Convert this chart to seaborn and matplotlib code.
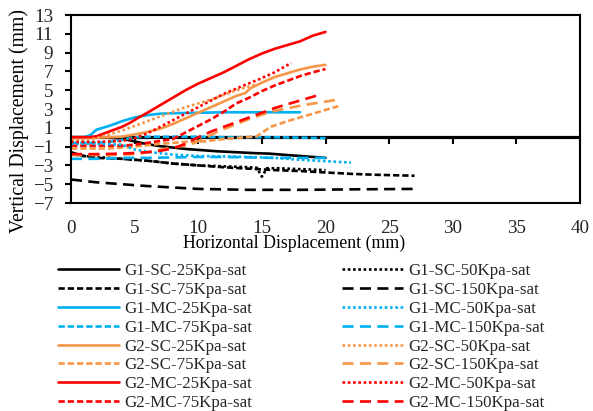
import numpy as np
import pandas as pd
import matplotlib
matplotlib.use("Agg")
import matplotlib.pyplot as plt
import seaborn as sns

# ---------------- data ----------------
g1_sc_25_x = [0, 1, 2, 3, 4, 5, 6, 7, 8, 9, 10, 11.5, 13, 14.5, 15.6, 17, 18, 19, 20]
g1_sc_25_y = [0, 0, 0, -0.05, -0.15, -0.45, -0.75, -0.95, -1.1, -1.25, -1.35, -1.5, -1.6, -1.7, -1.75, -1.9, -2.0, -2.1, -2.2]

g1_sc_50_x = [0, 1, 2, 4, 6, 8, 10, 12, 13.3, 14.6, 15.0, 15.4, 16.2, 18, 20]
g1_sc_50_y = [-1.8, -2.0, -2.1, -2.3, -2.5, -2.8, -3.0, -3.1, -3.15, -3.25, -4.2, -3.3, -3.3, -3.4, -3.5]

g1_sc_75_x = [0, 1, 2, 4, 6, 8, 10, 12, 14, 16, 18, 20, 22, 24, 27]
g1_sc_75_y = [-1.6, -2.0, -2.2, -2.3, -2.5, -2.8, -3.0, -3.2, -3.35, -3.5, -3.6, -3.75, -3.9, -4.0, -4.1]

g1_sc_150_x = [0, 2, 4, 6, 8, 10, 14, 18, 22, 27]
g1_sc_150_y = [-4.5, -4.8, -5.0, -5.2, -5.35, -5.5, -5.6, -5.6, -5.55, -5.5]

g1_mc_25_x = [0, 1, 1.5, 2, 3, 4, 5, 6, 7, 8, 10, 12, 14, 16, 18]
g1_mc_25_y = [0, 0, 0.2, 0.8, 1.2, 1.7, 2.1, 2.35, 2.5, 2.55, 2.6, 2.65, 2.65, 2.65, 2.65]

g1_mc_50_x = [0, 2, 4, 5, 6, 7, 8, 10, 12, 14, 16, 18, 20, 22]
g1_mc_50_y = [-0.7, -0.7, -0.8, -1.3, -1.55, -1.7, -1.85, -2.0, -2.05, -2.1, -2.2, -2.4, -2.55, -2.7]

g1_mc_75_x = [0, 2, 3, 4, 5, 6, 8, 10, 12, 14, 16, 18, 20]
g1_mc_75_y = [-0.6, -0.6, -0.5, -0.3, 0, 0.05, 0.05, 0.05, 0, 0, 0, -0.05, -0.1]

g1_mc_150_x = [0, 2, 4, 6, 8, 10, 12, 14, 16, 18, 20.5]
g1_mc_150_y = [-2.3, -2.3, -2.2, -2.2, -2.15, -2.1, -2.1, -2.15, -2.2, -2.2, -2.2]

g2_sc_25_x = [0, 2, 4, 5, 6, 7, 8, 9, 10, 11, 12, 13, 13.7, 14.1, 15, 16, 17, 18, 19, 20]
g2_sc_25_y = [-0.1, -0.05, 0.05, 0.3, 0.55, 0.9, 1.4, 2.0, 2.6, 3.2, 3.8, 4.4, 4.7, 5.2, 5.8, 6.4, 6.8, 7.2, 7.5, 7.7]

g2_sc_50_x = [0, 1, 2, 3, 4, 5, 6, 7, 8, 9, 10, 11, 12, 13, 14.5]
g2_sc_50_y = [-0.3, -0.3, -0.1, 0.3, 0.7, 1.2, 1.7, 2.2, 2.7, 3.2, 3.6, 4.0, 4.5, 5.0, 5.6]

g2_sc_75_x = [0, 3, 5, 7, 9, 10.4, 12, 14.6, 15.7, 17, 19, 21]
g2_sc_75_y = [-1.2, -1.2, -1.0, -0.7, -0.5, -0.45, -0.2, 0.1, 1.1, 1.7, 2.5, 3.3]

g2_sc_150_x = [0, 3, 5, 6, 7.5, 9.4, 11.7, 14.3, 16, 18.2, 21]
g2_sc_150_y = [-1.9, -1.9, -1.8, -1.6, -1.2, -0.8, 0.7, 2.1, 2.8, 3.4, 4.0]

g2_mc_25_x = [0, 1, 1.5, 2, 3, 4, 4.6, 5.2, 6, 7, 8, 9, 10, 11, 12, 13, 14, 15, 16, 17, 18, 19, 20]
g2_mc_25_y = [0, 0, 0, 0.1, 0.6, 1.1, 1.5, 2.0, 2.6, 3.4, 4.2, 5.0, 5.7, 6.3, 6.9, 7.6, 8.3, 8.9, 9.4, 9.8, 10.2, 10.8, 11.2]

g2_mc_50_x = [0, 2, 4, 5, 6, 7, 8, 9, 10, 11, 12, 13.3, 14.85, 16, 17.3]
g2_mc_50_y = [-0.5, -0.5, -0.4, -0.1, 0.4, 1.1, 1.8, 2.5, 3.2, 3.9, 4.6, 5.35, 6.2, 6.9, 7.9]

g2_mc_75_x = [0, 2, 4, 5, 6, 7, 8, 9, 10, 11, 12, 13, 14, 15, 16, 17, 18, 19, 20]
g2_mc_75_y = [-0.9, -0.9, -0.9, -0.8, -0.6, -0.4, -0.2, 0.5, 1.2, 1.9, 2.7, 3.6, 4.2, 4.9, 5.5, 6.0, 6.5, 6.9, 7.25]

g2_mc_150_x = [0, 2, 4, 6, 7, 8, 9, 10, 11, 12, 13, 14, 15, 16, 17, 18, 19, 19.7]
g2_mc_150_y = [-1.8, -1.8, -1.75, -1.6, -1.45, -1.2, -0.7, 0.0, 0.6, 1.1, 1.6, 2.1, 2.6, 3.1, 3.5, 3.9, 4.3, 4.6]

series_names = [
    "G1-SC-25Kpa-sat", "G1-SC-75Kpa-sat", "G1-MC-25Kpa-sat", "G1-MC-75Kpa-sat",
    "G2-SC-25Kpa-sat", "G2-SC-75Kpa-sat", "G2-MC-25Kpa-sat", "G2-MC-75Kpa-sat",
    "G1-SC-50Kpa-sat", "G1-SC-150Kpa-sat", "G1-MC-50Kpa-sat", "G1-MC-150Kpa-sat",
    "G2-SC-50Kpa-sat", "G2-SC-150Kpa-sat", "G2-MC-50Kpa-sat", "G2-MC-150Kpa-sat",
]
series_data = {
    "G1-SC-25Kpa-sat": (g1_sc_25_x, g1_sc_25_y),
    "G1-SC-50Kpa-sat": (g1_sc_50_x, g1_sc_50_y),
    "G1-SC-75Kpa-sat": (g1_sc_75_x, g1_sc_75_y),
    "G1-SC-150Kpa-sat": (g1_sc_150_x, g1_sc_150_y),
    "G1-MC-25Kpa-sat": (g1_mc_25_x, g1_mc_25_y),
    "G1-MC-50Kpa-sat": (g1_mc_50_x, g1_mc_50_y),
    "G1-MC-75Kpa-sat": (g1_mc_75_x, g1_mc_75_y),
    "G1-MC-150Kpa-sat": (g1_mc_150_x, g1_mc_150_y),
    "G2-SC-25Kpa-sat": (g2_sc_25_x, g2_sc_25_y),
    "G2-SC-50Kpa-sat": (g2_sc_50_x, g2_sc_50_y),
    "G2-SC-75Kpa-sat": (g2_sc_75_x, g2_sc_75_y),
    "G2-SC-150Kpa-sat": (g2_sc_150_x, g2_sc_150_y),
    "G2-MC-25Kpa-sat": (g2_mc_25_x, g2_mc_25_y),
    "G2-MC-50Kpa-sat": (g2_mc_50_x, g2_mc_50_y),
    "G2-MC-75Kpa-sat": (g2_mc_75_x, g2_mc_75_y),
    "G2-MC-150Kpa-sat": (g2_mc_150_x, g2_mc_150_y),
}

x_ticks = [0, 5, 10, 15, 20, 25, 30, 35, 40]
y_ticks = [-7, -5, -3, -1, 1, 3, 5, 7, 9, 11, 13]

# ---------------- styles ----------------
group_colors = {"G1-SC": "#000000", "G1-MC": "#00B0F0", "G2-SC": "#F79646", "G2-MC": "#FF0000"}
load_styles = {
    "25": "-",
    "50": (0, (1.0, 1.0)),
    "75": (0, (2.4, 1.1)),
    "150": (0, (4.2, 2.4)),
}

rows = []
for name, (xs, ys) in series_data.items():
    for xv, yv in zip(xs, ys):
        rows.append({"series": name, "x": xv, "y": yv})
df = pd.DataFrame(rows)

sns.set_theme(style="white")
plt.rcParams["font.family"] = ["Liberation Serif", "DejaVu Serif"]

fig = plt.figure(figsize=(5.93, 4.11), dpi=100)
ax = fig.add_axes([71 / 593, 1 - 203 / 411, (580 - 71) / 593, (203 - 15) / 411])

LW = 1.9
for name in series_names:
    grp = name[:5]
    load = name.split("-")[2].replace("Kpa", "")
    sub = df[df["series"] == name]
    sns.lineplot(data=sub, x="x", y="y", ax=ax, color=group_colors[grp],
                 linestyle=load_styles[load], linewidth=LW, label=name,
                 estimator=None, errorbar=None, sort=False)

ax.set_xlim(0, 40)
ax.set_ylim(-7, 13)
ax.set_yticks(y_ticks)
ax.set_xticks(x_ticks)
ax.tick_params(axis="y", direction="out", length=4, width=1.5, color="black",
               pad=9, labelsize=13.8, left=True)
ax.tick_params(axis="x", length=0, pad=12, labelsize=13.8)
for s in ax.spines.values():
    s.set_visible(True)
    s.set_color("black")
    s.set_linewidth(1.5)

# x-axis line crossing at y = 0 with its tick marks
ax.axhline(0, color="black", linewidth=2.3, zorder=1.5)
sec = ax.secondary_xaxis(7 / 20)
sec.set_xticks(x_ticks)
sec.tick_params(axis="x", direction="out", length=5, width=1.5, color="black",
                labelbottom=False, labeltop=False, bottom=True, top=False)
sec.spines["bottom"].set_visible(False)
sec.spines["top"].set_visible(False)

ax.set_xlabel("Horizontal Displacement (mm)", fontsize=12.8, color="black")
ax.xaxis.set_label_coords(0.439, -0.17)
ax.set_ylabel("Vertical Displacement (mm)", fontsize=14.2, color="black")
ax.yaxis.set_label_coords(-0.082, 0.434)

handles, labels = ax.get_legend_handles_labels()
ax.get_legend().remove()
fig.legend(handles, labels, ncol=2, loc="upper left",
           bbox_to_anchor=(58 / 593, 1 - 263 / 411), frameon=False,
           fontsize=12.2, handlelength=3.6, handletextpad=0.3,
           columnspacing=5.3, labelspacing=0.17, borderpad=0, borderaxespad=0)

fig.savefig("out.png", dpi=100)
